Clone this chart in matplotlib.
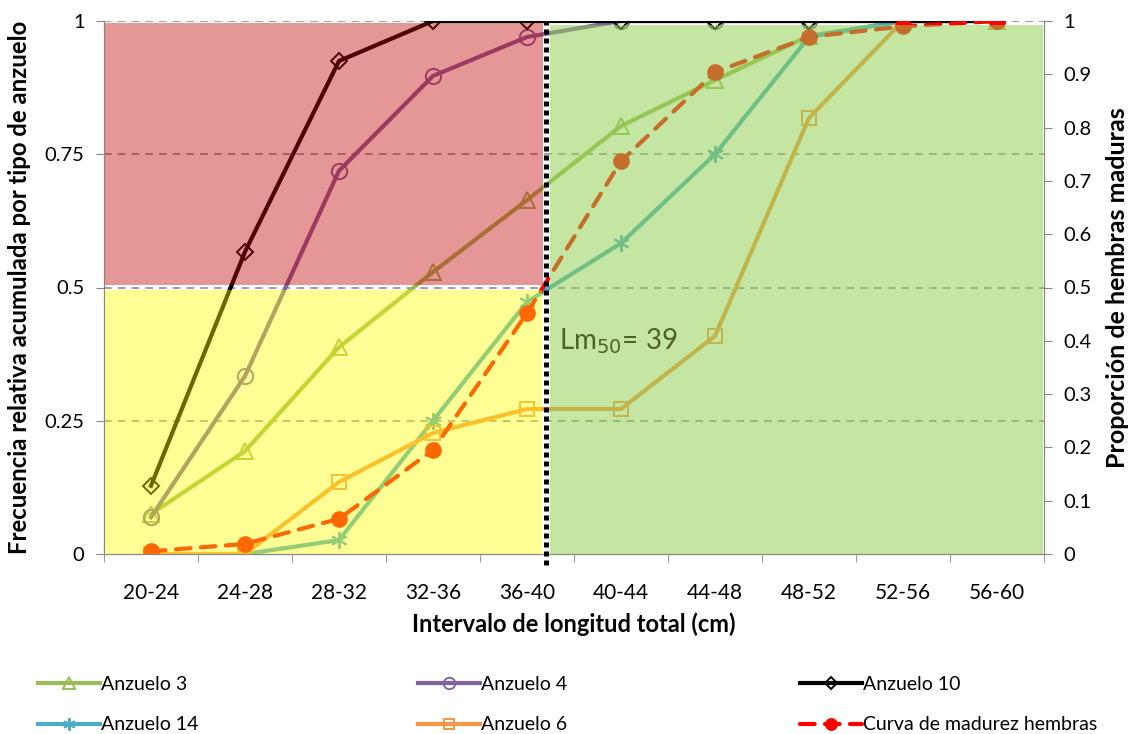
import matplotlib
matplotlib.use("Agg")
from matplotlib import pyplot as plt
from matplotlib.patches import Rectangle

plt.rcParams['font.family'] = ['Lato', 'DejaVu Sans']

intervals = ["20-24", "24-28", "28-32", "32-36", "36-40",
             "40-44", "44-48", "48-52", "52-56", "56-60"]

anzuelo_3 = [0.075, 0.193, 0.388, 0.529, 0.664, 0.803, 0.889, 0.972, 1.0, 1.0]
anzuelo_4 = [0.069, 0.334, 0.719, 0.897, 0.970, 1.0, 1.0, 1.0, 1.0, 1.0]
anzuelo_10 = [0.128, 0.567, 0.925, 1.0, 1.0, 1.0, 1.0, 1.0, 1.0, 1.0]
anzuelo_14 = [0.0, 0.0, 0.026, 0.250, 0.473, 0.583, 0.750, 0.970, 1.0, 1.0]
anzuelo_6 = [0.0, 0.0, 0.135, 0.227, 0.272, 0.272, 0.409, 0.818, 1.0, 1.0]
madurez = [0.005, 0.019, 0.066, 0.195, 0.452, 0.737, 0.904, 0.970, 0.990, 1.0]

lm50_pos = 4.2  # Lm50 = 39 cm, between 36-40 and 40-44

x = list(range(len(intervals)))
grey = '#868686'

fig = plt.figure(figsize=(11.34, 7.34), dpi=100)
ax = fig.add_axes([104 / 1134, 1 - 554 / 734, 940 / 1134, 533 / 734])
ax2 = ax.twinx()

for yv in [0.25, 0.5, 0.75, 1.0]:
    ax.axhline(yv, color=grey, lw=1.1, ls=(0, (5, 4)), zorder=1)

lw = 3.0
h3, = ax.plot(x, anzuelo_3, color='#9BBB59', lw=lw, marker='^', ms=11,
              mfc='none', mec='#9BBB59', mew=1.4, label='Anzuelo 3', zorder=3)
h4, = ax.plot(x, anzuelo_4, color='#8064A2', lw=lw, marker='o', ms=11,
              mfc='none', mec='#8064A2', mew=1.4, label='Anzuelo 4', zorder=3)
h14, = ax.plot(x, anzuelo_14, color='#4BACC6', lw=lw, marker=(6, 2, 0), ms=12,
               mec='#4BACC6', mew=1.4, label='Anzuelo 14', zorder=3)
h6, = ax.plot(x, anzuelo_6, color='#F79646', lw=lw, marker='s', ms=10,
              mfc='none', mec='#F79646', mew=1.4, label='Anzuelo 6', zorder=3)
h10, = ax.plot(x, anzuelo_10, color='black', lw=lw, marker='D', ms=8,
               mfc='none', mec='black', mew=1.4, label='Anzuelo 10', zorder=4)

hm, = ax2.plot(x, madurez, color='red', lw=lw, ls=(0, (3.5, 2.5)),
               dash_capstyle='round', marker='o', ms=11, mfc='red', mec='red',
               label='Curva de madurez hembras', zorder=2)

# translucent zones drawn over the series (white gaps left between them)
ax2.add_patch(Rectangle((-0.49, 0.505), lm50_pos - 0.035 + 0.49, 0.997 - 0.505,
                        facecolor='#C00000', alpha=0.41, lw=0, zorder=5))
ax2.add_patch(Rectangle((-0.49, 0.0), lm50_pos - 0.04 + 0.49, 0.495,
                        facecolor='#FFFF00', alpha=0.41, lw=0, zorder=5))
ax2.add_patch(Rectangle((lm50_pos + 0.045, 0.0), 9.49 - lm50_pos - 0.045, 0.9925,
                        facecolor='#92D050', alpha=0.53, lw=0, zorder=5))

# Lm50 marker line with square black dots
ax2.axvline(lm50_pos, color='black', lw=3.6, ls=(0, (1.0, 0.8)),
            ymin=-0.02, ymax=1.0, clip_on=False, zorder=6.5)
ax2.text(lm50_pos + 0.14, 0.40, 'Lm$_{50}$= 39', fontsize=20,
         color='#4F6228', va='center', ha='left', zorder=7)

for a in (ax, ax2):
    a.set_xlim(-0.5, 9.5)
    a.set_ylim(0, 1)
    for s in a.spines.values():
        s.set_color(grey)
    a.spines['top'].set_visible(False)

ax.set_yticks([0, 0.25, 0.5, 0.75, 1])
ax.set_yticklabels(['0', '0.25', '0.5', '0.75', '1'])
ax2.set_yticks([i / 10 for i in range(11)])
ax2.set_yticklabels(['0'] + ['0.%d' % i for i in range(1, 10)] + ['1'])

ax.set_xticks(x)
ax.set_xticklabels(intervals)
ax.set_xticks([i - 0.5 for i in range(11)], minor=True)
ax.tick_params(axis='x', which='major', length=0, pad=21, labelsize=15)
ax.tick_params(axis='x', which='minor', length=6, color=grey, direction='out')
ax.tick_params(axis='y', length=6, color=grey, labelsize=14.5, pad=8)
ax2.tick_params(axis='y', length=6, color=grey, labelsize=14.5, pad=8)

ax.set_xlabel('Intervalo de longitud total (cm)', fontsize=17, fontweight='bold',
              labelpad=7)
ax.set_ylabel('Frecuencia relativa acumulada por tipo de anzuelo', fontsize=17.2,
              fontweight='bold', labelpad=10)
ax2.set_ylabel('Proporción de hembras maduras', fontsize=18, fontweight='bold',
               labelpad=10)

# three legend columns at fixed positions
columns = [[h3, h14], [h4, h6], [h10, hm]]
col_x = [38, 418, 800]
for hs, cx in zip(columns, col_x):
    fig.legend(handles=hs, loc='upper left', ncol=1,
               bbox_to_anchor=(cx / 1134, 1 - 676 / 734), frameon=False,
               fontsize=14, handlelength=3.2, handletextpad=0.05,
               labelspacing=1.2, borderpad=0, borderaxespad=0,
               markerscale=0.75)

fig.savefig('out.png', dpi=100)
